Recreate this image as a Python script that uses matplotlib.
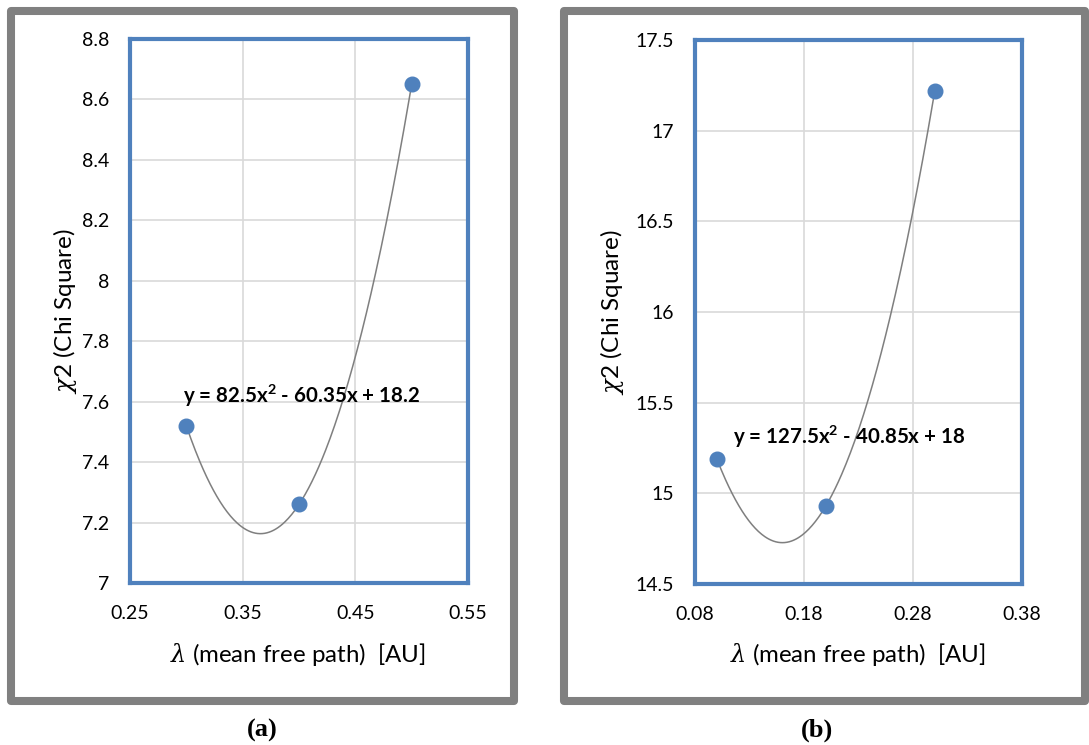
import numpy as np
import matplotlib
matplotlib.use("Agg")
from matplotlib import pyplot as plt
from matplotlib.patches import Rectangle

plt.rcParams['font.family'] = ['Lato', 'DejaVu Sans']
plt.rcParams['mathtext.fontset'] = 'custom'
plt.rcParams['mathtext.rm'] = 'Lato'
plt.rcParams['mathtext.bf'] = 'Lato:bold'
plt.rcParams['mathtext.it'] = 'DejaVu Serif:italic'

# data: mean free path vs chi square, two cases
lam_a = [0.3, 0.4, 0.5]
chi_a = [7.52, 7.26, 8.65]
coef_a = [82.5, -60.35, 18.2]
eq_a = "y = 82.5x$^{\\mathbf{2}}$ - 60.35x + 18.2"

lam_b = [0.1, 0.2, 0.3]
chi_b = [15.19, 14.93, 17.22]
coef_b = [127.5, -40.85, 18]
eq_b = "y = 127.5x$^{\\mathbf{2}}$ - 40.85x + 18"

xticks_a = [0.25, 0.35, 0.45, 0.55]
yticks_a = [7, 7.2, 7.4, 7.6, 7.8, 8, 8.2, 8.4, 8.6, 8.8]
xticks_b = [0.08, 0.18, 0.28, 0.38]
yticks_b = [14.5, 15, 15.5, 16, 16.5, 17, 17.5]

blue = '#4F81BD'
W, H = 1089, 745
fig = plt.figure(figsize=(W / 100, H / 100), dpi=100)
fig.patch.set_facecolor('white')

def panel(rect, lam, chi, coef, eq, eqpos, xt, yt, ylab_x, xlab_y):
    ax = fig.add_axes(rect)
    # quadratic trend line over the data range
    xs = np.linspace(min(lam), max(lam), 200)
    ax.plot(xs, np.polyval(coef, xs), color='#7F7F7F', lw=1.1, zorder=3)
    ax.plot(lam, chi, 'o', color=blue, ms=10.5, zorder=4, clip_on=False)
    ax.set_xlim(xt[0], xt[-1])
    ax.set_ylim(yt[0], yt[-1])
    ax.set_xticks(xt)
    ax.set_yticks(yt)
    ax.set_xticklabels([('%g' % v) for v in xt])
    ax.set_yticklabels([('%g' % v) for v in yt])
    ax.tick_params(length=0, labelsize=14)
    ax.tick_params(axis='y', pad=15)
    ax.tick_params(axis='x', pad=16)
    ax.grid(color='#D9D9D9', lw=1.2)
    for s in ax.spines.values():
        s.set_color(blue)
        s.set_linewidth(3)
    ax.text(eqpos[0], eqpos[1], eq, fontsize=14.8, fontweight='bold',
            ha='left', va='center', zorder=5)
    ax.set_xlabel("$\\lambda$ (mean free path)  [AU]", fontsize=17.3, va='center')
    ax.xaxis.set_label_coords(0.497, xlab_y)
    ax.set_ylabel("$\\chi$2 (Chi Square)", fontsize=17.5, va='center')
    ax.yaxis.set_label_coords(ylab_x, 0.5)
    return ax

panel([130 / W, 1 - 583 / H, 338 / W, 544 / H], lam_a, chi_a, coef_a, eq_a,
      (0.297, 7.62), xticks_a, yticks_a, -0.193, -0.132)
panel([695 / W, 1 - 584 / H, 327 / W, 544 / H], lam_b, chi_b, coef_b, eq_b,
      (0.115, 15.31), xticks_b, yticks_b, -0.255, -0.1305)

# gray chart frames
for x0, x1 in [(11, 514), (564, 1085)]:
    fig.patches.append(Rectangle((x0 / W, 1 - 701 / H), (x1 - x0) / W, 690 / H,
                                 transform=fig.transFigure, fill=False,
                                 edgecolor='#808080', lw=5.8, joinstyle='round'))

fig.text(262 / W, 1 - 730 / H, "(a)", fontsize=19, fontweight='bold',
         family='Liberation Serif', ha='center', va='center')
fig.text(817 / W, 1 - 730 / H, "(b)", fontsize=19, fontweight='bold',
         family='Liberation Serif', ha='center', va='center')

fig.savefig("out.png", dpi=100)
